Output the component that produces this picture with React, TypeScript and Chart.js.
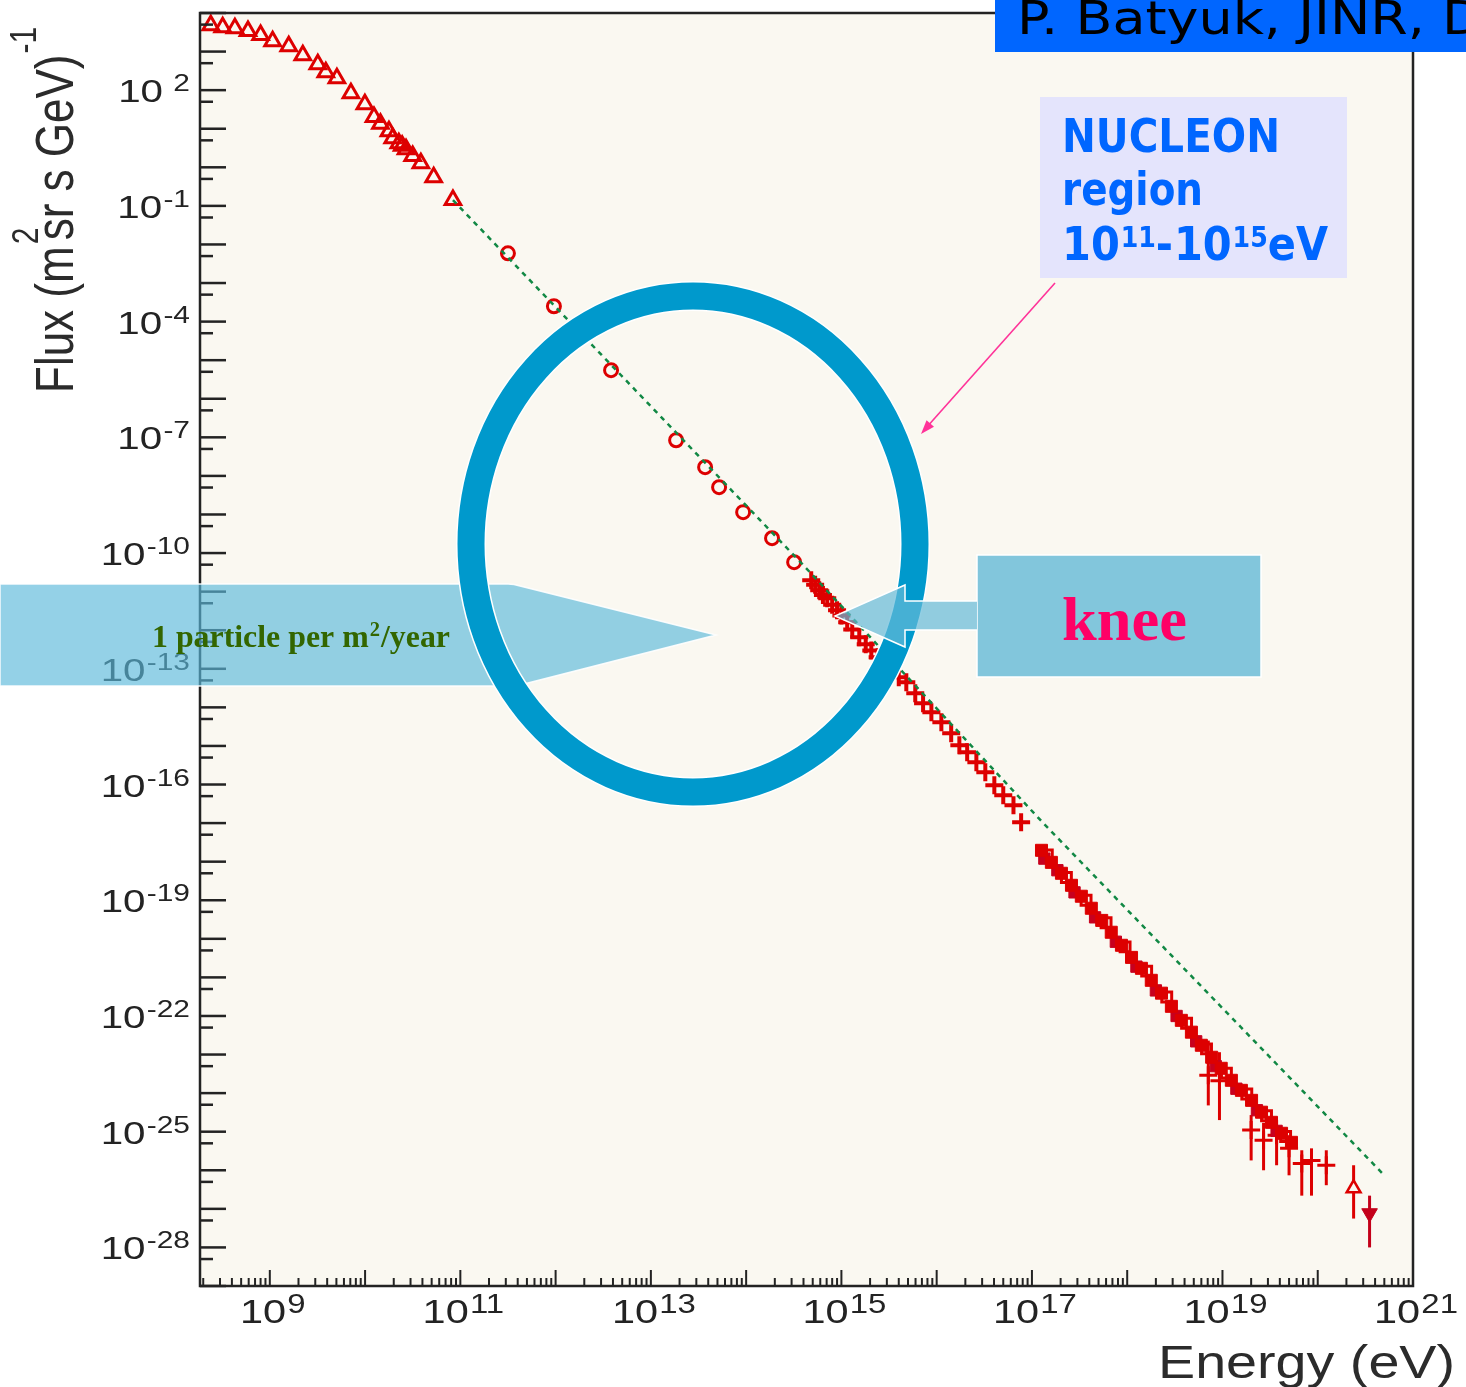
import React, { useEffect, useRef } from "react";
import { Chart, registerables } from "chart.js";

Chart.register(...registerables);

// ---------------- data ----------------
// low-energy spectrum (open triangles)
const lowEnergyE = [2.4e8, 3.2e8, 4.3e8, 5.9e8, 8.0e8, 1.07e9, 1.58e9, 2.22e9, 3.19e9, 3.87e9, 5.06e9, 7.1e9, 9.95e9, 1.24e10, 1.45e10, 1.78e10, 1.95e10, 2.26e10, 2.45e10, 2.69e10, 3.16e10, 3.85e10, 5.25e10, 8.36e10];
const lowEnergyFlux = [4800, 4300, 4000, 3400, 2700, 1860, 1380, 807, 472, 293, 205, 83.6, 43.4, 20, 13.5, 8.65, 5.69, 4.23, 3.6, 2.95, 1.95, 1.28, 0.555, 0.141];

// direct measurements (open circles)
const directE = [3.16e11, 9.6e11, 3.82e12, 1.84e13, 3.71e13, 5.2e13, 9.3e13, 1.87e14, 3.19e14];
const directFlux = [5.9e-3, 2.5e-4, 5.5e-6, 8.4e-8, 1.68e-8, 5.1e-9, 1.15e-9, 2.43e-10, 5.8e-11];

// knee region (crosses)
const kneeE = [4.82e14, 5.3e14, 5.85e14, 6.4e14, 7.1e14, 8.0e14, 9.0e14, 1.0e15, 1.15e15, 1.3e15, 1.54e15, 1.8e15, 2.06e15, 2.4e15, 2.75e15, 3.3e15, 4.0e15, 4.8e15, 5.96e15, 7.2e15, 8.8e15, 1.12e16, 1.42e16, 1.73e16, 2.09e16, 2.61e16, 3.24e16, 4.03e16, 5.0e16, 6.4e16, 7.7e16];
const kneeFlux = [1.98e-11, 1.5e-11, 1.09e-11, 8.2e-12, 6.7e-12, 4.6e-12, 3.3e-12, 2.4e-12, 1.61e-12, 1.05e-12, 6.6e-13, 4.3e-13, 3.0e-13, 2.0e-13, 1.48e-13, 9.0e-14, 6.0e-14, 4.5e-14, 2.32e-14, 1.28e-14, 7.5e-15, 4.1e-15, 2.13e-15, 1.04e-15, 6.9e-16, 3.8e-16, 2.08e-16, 9.6e-17, 5.3e-17, 2.9e-17, 1.05e-17];

// air-shower data above 1e17 eV (filled squares)
const showerE = [1.26e17, 1.6e17, 2.04e17, 2.6e17, 3.3e17, 4.2e17, 5.4e17, 6.8e17, 8.7e17, 1.11e18, 1.41e18, 1.79e18, 2.29e18, 2.91e18, 3.7e18, 4.72e18, 6.0e18, 7.7e18, 9.7e18, 1.24e19, 1.58e19, 2.02e19, 2.57e19, 3.27e19, 4.17e19, 5.3e19];
const showerFlux = [1.97e-18, 9.6e-19, 5.0e-19, 2.44e-19, 1.27e-19, 6.2e-20, 3.0e-20, 1.48e-20, 6.8e-21, 3.3e-21, 1.72e-21, 8.4e-22, 3.9e-22, 1.78e-22, 7.7e-23, 3.8e-23, 1.74e-23, 8.5e-24, 4.4e-24, 2.15e-24, 1.18e-24, 6.5e-25, 3.2e-25, 1.75e-25, 9.1e-26, 5.3e-26];

// second air-shower set (open squares)
const shower2E = [1.45e17, 2.3e17, 3.7e17, 6.0e17, 9.5e17, 1.6e18, 2.6e18, 4.2e18, 6.8e18, 1.1e19, 1.8e19, 2.9e19, 4.6e19];
const shower2Flux = [1.5e-18, 3.9e-19, 1.0e-19, 2.6e-20, 6.2e-21, 1.45e-21, 3.1e-22, 6.5e-23, 1.4e-23, 3.3e-24, 9.5e-25, 2.6e-25, 7.5e-26];

// third air-shower set (small filled squares, slightly below)
const shower3E = [1.35e17, 1.85e17, 2.8e17, 4.6e17, 7.6e17, 1.25e18, 2.0e18, 3.3e18, 5.3e18, 8.5e18, 1.4e19, 2.3e19, 3.7e19];
const shower3Flux = [1.2e-18, 6.0e-19, 1.6e-19, 3.6e-20, 8.4e-21, 1.9e-21, 4.6e-22, 1.0e-22, 2.2e-23, 5.0e-24, 1.3e-24, 3.6e-25, 1.05e-25];

// highest-energy points with error bars (crosses)
const uheE = [7.1e18, 9.3e18, 2.0e19, 2.7e19, 3.7e19, 5.0e19, 6.8e19, 8.6e19, 1.23e20];
const uheFlux = [2.9e-24, 2.1e-24, 1.1e-25, 6.0e-26, 8.1e-26, 3.7e-26, 1.5e-26, 1.8e-26, 1.35e-26];
const uheHi = [2.3e-23, 1.15e-23, 2.7e-25, 1.7e-25, 2.0e-25, 8.1e-26, 3.3e-26, 3.7e-26, 3.3e-26];
const uheLo = [4.8e-25, 2.0e-25, 1.8e-26, 1.0e-26, 1.35e-26, 7.4e-27, 2.2e-27, 2.2e-27, 4.1e-27];

const lastOpenE = [2.38e20];
const lastOpenFlux = [3.4e-27];
const lastOpenHi = [1.35e-26];
const lastOpenLo = [5.6e-28];

const lastFilledE = [3.5e20];
const lastFilledFlux = [7.7e-28];
const lastFilledHi = [2.2e-27];
const lastFilledLo = [1.0e-28];

// power-law reference line (green dashed)
const fitE = [8.36e10, 3.8e14, 1.29e17, 5.0e20];
const fitFlux = [0.141, 5.5e-11, 1.05e-17, 7.4e-27];

// axis labels
const xLabelExps = [9, 11, 13, 15, 17, 19, 21];
const yLabelExps = [2, -1, -4, -7, -10, -13, -16, -19, -22, -25, -28];
const xMin = 1.85e8;
const xMax = 1e21;
const yMin = 1e-29;
const yMax = 1e4;

// ---------------- styling helpers ----------------
const SANS = '"Liberation Sans", Arial, Helvetica, sans-serif';
const SERIF = '"Liberation Serif", "Times New Roman", serif';
const TAHOMA = '"DejaVu Sans", Verdana, sans-serif';
const RED = "#dd0000";
const AXIS = "#232323";

const pts = (xs: number[], ys: number[]) => xs.map((x, i) => ({ x, y: ys[i] }));

function textW(ctx: CanvasRenderingContext2D, s: string, font: string) {
  ctx.font = font;
  return ctx.measureText(s).width;
}

function drawText(ctx: CanvasRenderingContext2D, s: string, x: number, y: number, font: string, color: string, sx = 1) {
  ctx.save();
  ctx.font = font;
  ctx.fillStyle = color;
  ctx.textAlign = "left";
  ctx.textBaseline = "alphabetic";
  ctx.translate(x, y);
  ctx.scale(sx, 1);
  ctx.fillText(s, 0, 0);
  ctx.restore();
}

type Seg = { t: string; font: string; dy: number; gap?: number };

function segWidth(ctx: CanvasRenderingContext2D, segs: Seg[]) {
  return segs.reduce((a, s) => a + textW(ctx, s.t, s.font) + (s.gap || 0), 0);
}

function drawSegs(ctx: CanvasRenderingContext2D, segs: Seg[], x: number, y: number, color: string, sx: number) {
  let cx = x;
  for (const s of segs) {
    cx += (s.gap || 0) * sx;
    drawText(ctx, s.t, cx, y + s.dy, s.font, color, sx);
    cx += textW(ctx, s.t, s.font) * sx;
  }
}

const rootPlugin = {
  id: "rootStyle",
  beforeDraw(chart: any) {
    const { ctx, chartArea: a } = chart;
    ctx.save();
    ctx.fillStyle = "#faf8f1";
    ctx.fillRect(a.left, a.top, a.right - a.left, a.bottom - a.top);
    ctx.restore();
  },
  beforeDatasetsDraw(chart: any) {
    const { ctx, chartArea: a } = chart;
    const xs = chart.scales.x;
    const ys = chart.scales.y;
    ctx.save();
    ctx.beginPath();
    ctx.rect(a.left, a.top, a.right - a.left, a.bottom - a.top);
    ctx.clip();
    chart.data.datasets.forEach((ds: any) => {
      if (!ds.errHi) return;
      ctx.strokeStyle = ds.errColor || RED;
      ctx.lineWidth = 3;
      ds.data.forEach((p: any, i: number) => {
        const px = xs.getPixelForValue(p.x);
        ctx.beginPath();
        ctx.moveTo(px, ys.getPixelForValue(ds.errHi[i]));
        ctx.lineTo(px, ys.getPixelForValue(ds.errLo[i]));
        ctx.stroke();
      });
    });
    ctx.restore();
  },
  afterDraw(chart: any) {
    const { ctx, chartArea: a } = chart;
    const xs = chart.scales.x;
    const ys = chart.scales.y;
    ctx.save();

    // frame
    ctx.strokeStyle = AXIS;
    ctx.lineWidth = 2.5;
    ctx.strokeRect(a.left, a.top, a.right - a.left, a.bottom - a.top);

    // y ticks (every decade, plus 5x10^n)
    ctx.lineWidth = 2.5;
    for (let e = -30; e <= 5; e++) {
      const py = ys.getPixelForValue(Math.pow(10, e));
      if (py >= a.top - 0.5 && py <= a.bottom + 0.5) {
        ctx.beginPath();
        ctx.moveTo(a.left, py);
        ctx.lineTo(a.left + 26, py);
        ctx.stroke();
      }
      const p5 = ys.getPixelForValue(5 * Math.pow(10, e - 1));
      if (p5 >= a.top && p5 <= a.bottom) {
        ctx.beginPath();
        ctx.moveTo(a.left, p5);
        ctx.lineTo(a.left + 13, p5);
        ctx.stroke();
      }
    }
    // x ticks
    ctx.lineWidth = 2;
    for (let e = 8; e <= 21; e++) {
      for (let m = 1; m <= 9; m++) {
        const px = xs.getPixelForValue(m * Math.pow(10, e));
        if (px < a.left + 1 || px > a.right + 0.5) continue;
        const len = m === 1 ? 16 : 8;
        ctx.beginPath();
        ctx.moveTo(px, a.bottom);
        ctx.lineTo(px, a.bottom - len);
        ctx.stroke();
      }
    }

    // y tick labels
    const ysx = 1.3;
    yLabelExps.forEach((e) => {
      const py = ys.getPixelForValue(Math.pow(10, e));
      const segs: Seg[] = [
        { t: "10", font: `31px ${SANS}`, dy: 0 },
        { t: String(e), font: `23px ${SANS}`, dy: -11, gap: e >= 0 ? 8 : 1 },
      ];
      const w = segWidth(ctx, segs) * ysx;
      drawSegs(ctx, segs, 190 - w, py + 12, AXIS, ysx);
    });
    // x tick labels
    const xsx = 1.22;
    xLabelExps.forEach((e) => {
      const px = xs.getPixelForValue(Math.pow(10, e));
      const segs: Seg[] = [
        { t: "10", font: `34px ${SANS}`, dy: 0 },
        { t: String(e), font: `27px ${SANS}`, dy: -10, gap: 1 },
      ];
      const w = segWidth(ctx, segs) * xsx;
      drawSegs(ctx, segs, px - w / 2 + 3, a.bottom + 37, AXIS, xsx);
    });

    // x title
    {
      const f = `46px ${SANS}`;
      const s = "Energy (eV)";
      const sx = 297 / textW(ctx, s, f);
      drawText(ctx, s, 1158, 1378, f, "#2b2b2b", sx);
    }
    // y title (rotated)
    {
      ctx.save();
      ctx.translate(73, 393);
      ctx.rotate(-Math.PI / 2);
      ctx.scale(1, 1.22);
      ctx.fillStyle = "#2b2b2b";
      ctx.textBaseline = "alphabetic";
      const f = `44px ${SANS}`;
      const fs = `30px ${SANS}`;
      ctx.font = f;
      ctx.fillText("Flux (m", 0, 0);
      const w1 = ctx.measureText("Flux (m").width;
      ctx.font = fs;
      ctx.fillText("2", w1 + 2, -29);
      ctx.font = f;
      ctx.fillText("sr s GeV)", w1 + 6, 0);
      const w2 = ctx.measureText("sr s GeV)").width;
      ctx.font = fs;
      ctx.fillText("-1", w1 + 6 + w2 + 1, -30);
      ctx.restore();
    }

    // ---------- slide overlays ----------
    // left arrow "1 particle per m2/year"
    ctx.beginPath();
    ctx.moveTo(0, 584);
    ctx.lineTo(508, 584);
    ctx.quadraticCurveTo(514, 584, 520, 586);
    ctx.lineTo(716, 635);
    ctx.lineTo(524, 684);
    ctx.quadraticCurveTo(518, 686, 512, 686);
    ctx.lineTo(0, 686);
    ctx.closePath();
    ctx.fillStyle = "rgba(90,185,218,0.65)";
    ctx.fill();
    ctx.strokeStyle = "rgba(255,255,255,0.9)";
    ctx.lineWidth = 1.5;
    ctx.stroke();

    // big ring
    ctx.beginPath();
    ctx.ellipse(693, 544, 222, 248, 0, 0, Math.PI * 2);
    ctx.strokeStyle = "#ffffff";
    ctx.lineWidth = 30;
    ctx.stroke();
    ctx.strokeStyle = "#0099cc";
    ctx.lineWidth = 27;
    ctx.stroke();

    // particle text
    {
      const segs: Seg[] = [
        { t: "1 particle per m", font: `bold 31px ${SERIF}`, dy: 0 },
        { t: "2", font: `bold 20px ${SERIF}`, dy: -11, gap: 1 },
        { t: "/year", font: `bold 31px ${SERIF}`, dy: 0, gap: 1 },
      ];
      const sx = 298 / segWidth(ctx, segs);
      drawSegs(ctx, segs, 152, 647, "#336600", sx);
    }

    // knee callout
    ctx.fillStyle = "rgba(100,185,215,0.8)";
    ctx.strokeStyle = "#ffffff";
    ctx.lineWidth = 1.5;
    ctx.fillRect(977, 555, 284, 122);
    ctx.strokeRect(977, 555, 284, 122);
    ctx.beginPath();
    ctx.moveTo(977, 601);
    ctx.lineTo(905, 601);
    ctx.lineTo(905, 585);
    ctx.lineTo(835, 616);
    ctx.lineTo(905, 647);
    ctx.lineTo(905, 630);
    ctx.lineTo(977, 630);
    ctx.fillStyle = "rgba(100,185,215,0.7)";
    ctx.fill();
    ctx.stroke();
    {
      const f = `bold 62px ${SERIF}`;
      const sx = 125 / textW(ctx, "knee", f);
      drawText(ctx, "knee", 1062, 640, f, "#ff0066", sx);
    }

    // pink pointer arrow
    ctx.strokeStyle = "#ff3399";
    ctx.fillStyle = "#ff3399";
    ctx.lineWidth = 1.6;
    ctx.beginPath();
    ctx.moveTo(1055, 283);
    ctx.lineTo(926, 428);
    ctx.stroke();
    {
      const ang = Math.atan2(433 - 283, 922 - 1055);
      const tx = 921, ty = 434, L = 14, W = 5;
      ctx.beginPath();
      ctx.moveTo(tx, ty);
      ctx.lineTo(tx - L * Math.cos(ang) + W * Math.sin(ang), ty - L * Math.sin(ang) - W * Math.cos(ang));
      ctx.lineTo(tx - L * Math.cos(ang) - W * Math.sin(ang), ty - L * Math.sin(ang) + W * Math.cos(ang));
      ctx.closePath();
      ctx.fill();
    }

    // NUCLEON box
    ctx.fillStyle = "#e4e4fc";
    ctx.fillRect(1040, 97, 307, 181);
    {
      const blue = "#0066ff";
      const f = `bold 46px ${TAHOMA}`;
      drawText(ctx, "NUCLEON", 1062, 152, f, blue, 218 / textW(ctx, "NUCLEON", f));
      drawText(ctx, "region", 1062, 205, f, blue, 141 / textW(ctx, "region", f));
      const segs: Seg[] = [
        { t: "10", font: f, dy: 0 },
        { t: "11", font: `bold 28px ${TAHOMA}`, dy: -13, gap: 1 },
        { t: "-", font: f, dy: 0, gap: 0 },
        { t: "10", font: f, dy: 0, gap: 1 },
        { t: "15", font: `bold 28px ${TAHOMA}`, dy: -13, gap: 1 },
        { t: "eV", font: f, dy: 0, gap: 0 },
      ];
      drawSegs(ctx, segs, 1062, 260, blue, 266 / segWidth(ctx, segs));
    }

    // author banner
    ctx.fillStyle = "#0066ff";
    ctx.fillRect(995, 0, 471, 52);
    {
      const f = `47px ${TAHOMA}`;
      const sx = 425 / textW(ctx, "P. Batyuk, JINR, ", f);
      drawText(ctx, "P. Batyuk, JINR, Du", 1017, 34, f, "#000000", sx);
    }

    ctx.restore();
  },
};

export default function App() {
  const ref = useRef<HTMLCanvasElement>(null);

  useEffect(() => {
    document.body.style.margin = "0";
    const canvas = ref.current;
    if (!canvas) return;
    const chart = new Chart(canvas, {
      type: "scatter",
      data: {
        datasets: [
          {
            label: "power law",
            data: pts(fitE, fitFlux),
            showLine: true,
            borderColor: "#118844",
            borderWidth: 2.5,
            borderDash: [5, 5],
            pointRadius: 0,
            order: 0,
          } as any,
          {
            label: "low energy",
            data: pts(lowEnergyE, lowEnergyFlux),
            pointStyle: "triangle",
            pointRadius: 9,
            borderColor: RED,
            backgroundColor: "rgba(0,0,0,0)",
            pointBorderWidth: 3,
            order: 1,
          },
          {
            label: "direct",
            data: pts(directE, directFlux),
            pointStyle: "circle",
            pointRadius: 6.5,
            borderColor: RED,
            backgroundColor: "rgba(0,0,0,0)",
            pointBorderWidth: 3,
            order: 1,
          },
          {
            label: "knee",
            data: pts(kneeE, kneeFlux),
            pointStyle: "cross",
            pointRadius: 9,
            borderColor: RED,
            pointBorderWidth: 4,
            order: 2,
          },
          {
            label: "showers",
            data: pts(showerE, showerFlux),
            pointStyle: "rect",
            pointRadius: 8.5,
            borderColor: RED,
            backgroundColor: RED,
            pointBorderWidth: 1,
            order: 1,
          },
          {
            label: "showers 3",
            data: pts(shower3E, shower3Flux),
            pointStyle: "rect",
            pointRadius: 8,
            borderColor: "#c8001e",
            backgroundColor: "#c8001e",
            pointBorderWidth: 1,
            order: 1,
          },
          {
            label: "showers 2",
            data: pts(shower2E, shower2Flux),
            pointStyle: "rect",
            pointRadius: 7,
            borderColor: RED,
            backgroundColor: "rgba(0,0,0,0)",
            pointBorderWidth: 3,
            order: 1,
          },
          {
            label: "uhe",
            data: pts(uheE, uheFlux),
            pointStyle: "cross",
            pointRadius: 9,
            borderColor: RED,
            pointBorderWidth: 3,
            errHi: uheHi,
            errLo: uheLo,
            order: 1,
          } as any,
          {
            label: "last open",
            data: pts(lastOpenE, lastOpenFlux),
            pointStyle: "triangle",
            pointRadius: 8,
            borderColor: RED,
            backgroundColor: "#faf8f1",
            pointBorderWidth: 2.5,
            errHi: lastOpenHi,
            errLo: lastOpenLo,
            order: 1,
          } as any,
          {
            label: "last filled",
            data: pts(lastFilledE, lastFilledFlux),
            pointStyle: "triangle",
            rotation: 180,
            pointRadius: 9,
            borderColor: "#c4001a",
            backgroundColor: "#c4001a",
            pointBorderWidth: 1,
            errHi: lastFilledHi,
            errLo: lastFilledLo,
            errColor: "#c4001a",
            order: 1,
          } as any,
        ],
      },
      options: {
        responsive: false,
        animation: false,
        devicePixelRatio: 1,
        layout: { padding: { left: 200, right: 53, top: 12, bottom: 101 } },
        scales: {
          x: { type: "logarithmic", min: xMin, max: xMax, display: false },
          y: { type: "logarithmic", min: yMin, max: yMax, display: false },
        },
        plugins: {
          legend: { display: false },
          tooltip: { enabled: false },
        },
      },
      plugins: [rootPlugin as any],
    });
    return () => chart.destroy();
  }, []);

  return (
    <canvas
      ref={ref}
      width={1466}
      height={1387}
      style={{ display: "block", width: 1466, height: 1387 }}
    />
  );
}
